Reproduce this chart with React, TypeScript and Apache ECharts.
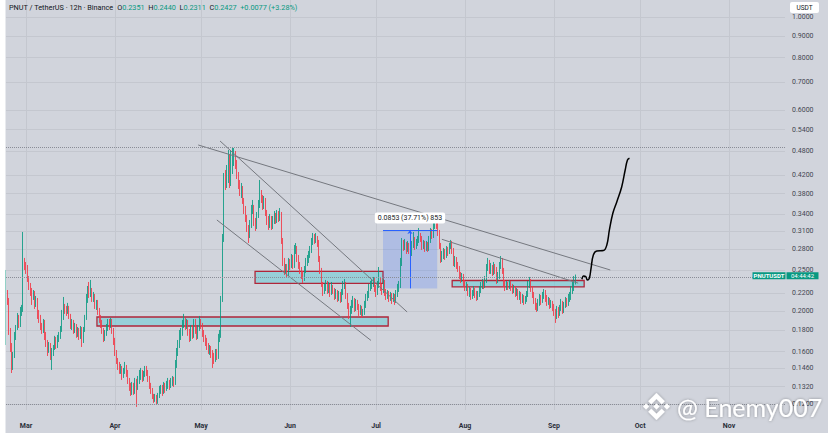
import React, { useEffect, useRef } from "react";
import * as echarts from "echarts";

// ---------- data (12h candles, PNUT / USDT, starting Feb 22; day 0 = Mar 1) ----------
const START_DAY = -7;
const FIRST_OPEN = 0.1753;

const closes = [
  0.2205,0.2123,0.1801,0.1659,0.1487,0.1571,0.1753,0.1821,0.1913,0.1851,0.1967,0.2010,0.2614,0.2571,0.2502,0.2395,0.2305,0.2218,0.2146,0.2205,
  0.2066,0.2123,0.1967,0.1913,0.1851,0.1801,0.1872,0.1753,0.1686,0.1614,0.1659,0.1571,0.1597,0.1632,0.1705,0.1659,0.1725,0.1744,0.1801,0.1913,
  0.2032,0.2010,0.1988,0.2032,0.1956,0.1851,0.1872,0.1801,0.1841,0.1763,0.1801,0.1744,0.1811,0.1705,0.1801,0.1913,0.2123,0.2218,0.2194,0.2242,
  0.2146,0.2182,0.2066,0.2089,0.2010,0.1913,0.1872,0.1801,0.1725,0.1772,0.1821,0.1872,0.1851,0.1903,0.1801,0.1705,0.1597,0.1528,0.1479,0.1447,
  0.1463,0.1400,0.1431,0.1463,0.1431,0.1370,0.1318,0.1283,0.1333,0.1297,0.1355,0.1326,0.1370,0.1408,0.1431,0.1385,0.1416,0.1447,0.1431,0.1385,
  0.1333,0.1297,0.1255,0.1228,0.1248,0.1215,0.1255,0.1297,0.1311,0.1283,0.1326,0.1304,0.1333,0.1348,0.1326,0.1355,0.1370,0.1348,0.1487,0.1597,
  0.1659,0.1753,0.1782,0.1851,0.1903,0.1841,0.1872,0.1782,0.1725,0.1821,0.1753,0.1872,0.1801,0.1744,0.1821,0.1903,0.1851,0.1772,0.1725,0.1686,
  0.1650,0.1614,0.1632,0.1580,0.1562,0.1528,0.1597,0.1554,0.1725,0.1753,0.2123,0.2949,0.4141,0.3985,0.4096,0.4209,0.4052,0.4326,0.4570,0.4620,
  0.4446,0.4209,0.3985,0.3835,0.3920,0.3671,0.3475,0.3326,0.3149,0.3064,0.3201,0.3475,0.3533,0.3254,0.3184,0.3381,0.3572,0.3773,0.3711,0.3552,
  0.3671,0.3437,0.3290,0.3201,0.3326,0.3184,0.3290,0.3363,0.3290,0.3400,0.3326,0.3400,0.2949,0.2614,0.2502,0.2530,0.2475,0.2614,0.2557,0.2672,
  0.2571,0.2792,0.2822,0.2672,0.2571,0.2502,0.2434,0.2395,0.2502,0.2614,0.2643,0.2716,0.2792,0.2917,0.2981,0.2949,0.2997,0.2901,0.2672,0.2502,
  0.2330,0.2218,0.2267,0.2318,0.2242,0.2292,0.2205,0.2280,0.2242,0.2170,0.2218,0.2146,0.2194,0.2135,0.2218,0.2305,0.2330,0.2182,0.2066,0.1967,
  0.2010,0.2077,0.2123,0.2032,0.2100,0.2055,0.1988,0.2032,0.1967,0.1988,0.2066,0.2146,0.2182,0.2267,0.2305,0.2330,0.2369,0.2267,0.2218,0.2305,
  0.2369,0.2280,0.2242,0.2330,0.2218,0.2170,0.2205,0.2146,0.2182,0.2123,0.2170,0.2123,0.2194,0.2267,0.2305,0.2614,0.2901,0.2838,0.2901,0.2792,
  0.2869,0.2792,0.2746,0.2869,0.2949,0.2853,0.2901,0.2949,0.3014,0.2981,0.2853,0.2901,0.2822,0.2885,0.2822,0.2949,0.3081,0.3031,0.3184,0.3254,
  0.3201,0.3081,0.2869,0.2672,0.2716,0.2762,0.2701,0.2792,0.2762,0.2853,0.2901,0.2792,0.2614,0.2643,0.2571,0.2530,0.2434,0.2395,0.2421,0.2343,
  0.2280,0.2305,0.2218,0.2242,0.2170,0.2205,0.2242,0.2194,0.2158,0.2194,0.2242,0.2292,0.2330,0.2305,0.2369,0.2530,0.2600,0.2502,0.2530,0.2475,
  0.2557,0.2502,0.2369,0.2421,0.2557,0.2643,0.2502,0.2330,0.2280,0.2318,0.2292,0.2330,0.2280,0.2242,0.2267,0.2205,0.2230,0.2170,0.2194,0.2123,
  0.2158,0.2112,0.2135,0.2182,0.2305,0.2369,0.2267,0.2194,0.2123,0.2055,0.2032,0.2089,0.2146,0.2112,0.2170,0.2205,0.2146,0.2100,0.2123,0.2066,
  0.2089,0.2043,0.1988,0.1956,0.2010,0.1967,0.2032,0.2089,0.2010,0.2066,0.2112,0.2089,0.2146,0.2158,0.2242,0.2292,0.2351,0.2427,
];

const highs = [
  0.2502,0.2242,0.2146,0.1821,0.1677,0.1597,0.1782,0.1851,0.1977,0.1956,0.2043,0.2066,0.3081,0.2672,0.2614,0.2571,0.2421,0.2330,0.2267,0.2242,
  0.2230,0.2170,0.2146,0.2010,0.1956,0.1872,0.1913,0.1903,0.1782,0.1705,0.1686,0.1677,0.1632,0.1659,0.1744,0.1734,0.1753,0.1782,0.1841,0.2010,
  0.2158,0.2077,0.2055,0.2089,0.2055,0.1967,0.1913,0.1903,0.1872,0.1861,0.1831,0.1821,0.1841,0.1831,0.1831,0.1956,0.2194,0.2292,0.2343,0.2369,
  0.2267,0.2218,0.2194,0.2123,0.2123,0.2032,0.1956,0.1903,0.1821,0.1801,0.1861,0.1913,0.1913,0.1924,0.1913,0.1821,0.1725,0.1614,0.1545,0.1512,
  0.1495,0.1479,0.1463,0.1512,0.1487,0.1447,0.1385,0.1348,0.1355,0.1348,0.1385,0.1378,0.1400,0.1447,0.1463,0.1447,0.1439,0.1479,0.1479,0.1447,
  0.1400,0.1348,0.1311,0.1269,0.1269,0.1262,0.1276,0.1326,0.1333,0.1333,0.1355,0.1348,0.1363,0.1385,0.1370,0.1385,0.1400,0.1393,0.1528,0.1632,
  0.1705,0.1801,0.1821,0.1903,0.1967,0.1924,0.1913,0.1903,0.1811,0.1851,0.1851,0.1913,0.1913,0.1831,0.1851,0.1945,0.1913,0.1872,0.1801,0.1753,
  0.1725,0.1677,0.1659,0.1650,0.1614,0.1589,0.1623,0.1623,0.1763,0.1801,0.2170,0.3047,0.4256,0.4326,0.4446,0.4827,0.4697,0.4827,0.4880,0.4880,
  0.4801,0.4570,0.4279,0.4096,0.4029,0.3963,0.3711,0.3552,0.3381,0.3201,0.3290,0.3572,0.3671,0.3572,0.3326,0.3437,0.3671,0.4096,0.3877,0.3773,
  0.3752,0.3711,0.3475,0.3363,0.3400,0.3363,0.3363,0.3456,0.3419,0.3475,0.3456,0.3513,0.3437,0.2981,0.2672,0.2585,0.2585,0.2672,0.2657,0.2731,
  0.2716,0.2869,0.2900,0.2853,0.2716,0.2614,0.2543,0.2488,0.2557,0.2672,0.2716,0.2777,0.2853,0.2981,0.3064,0.3047,0.3064,0.3014,0.2949,0.2701,
  0.2530,0.2343,0.2318,0.2369,0.2356,0.2343,0.2318,0.2343,0.2305,0.2267,0.2254,0.2242,0.2230,0.2218,0.2254,0.2356,0.2382,0.2343,0.2205,0.2089,
  0.2055,0.2123,0.2170,0.2146,0.2135,0.2123,0.2077,0.2066,0.2055,0.2021,0.2112,0.2194,0.2230,0.2318,0.2356,0.2382,0.2408,0.2395,0.2305,0.2356,
  0.2543,0.2408,0.2318,0.2382,0.2369,0.2254,0.2242,0.2230,0.2218,0.2205,0.2205,0.2194,0.2242,0.2318,0.2356,0.2672,0.2981,0.2949,0.2965,0.2917,
  0.2933,0.2901,0.2853,0.2933,0.3081,0.2997,0.2965,0.3014,0.3149,0.3064,0.3014,0.2949,0.2933,0.2933,0.2917,0.3014,0.3149,0.3132,0.3254,0.3363,
  0.3381,0.3290,0.3115,0.2901,0.2777,0.2822,0.2807,0.2853,0.2838,0.2901,0.2949,0.2933,0.2822,0.2701,0.2686,0.2614,0.2557,0.2475,0.2461,0.2448,
  0.2369,0.2343,0.2318,0.2280,0.2267,0.2242,0.2292,0.2267,0.2230,0.2230,0.2292,0.2343,0.2382,0.2369,0.2421,0.2585,0.2672,0.2643,0.2600,0.2571,
  0.2614,0.2585,0.2543,0.2475,0.2614,0.2701,0.2672,0.2530,0.2369,0.2356,0.2343,0.2369,0.2356,0.2318,0.2305,0.2292,0.2267,0.2254,0.2230,0.2218,
  0.2194,0.2182,0.2170,0.2230,0.2356,0.2408,0.2382,0.2292,0.2218,0.2146,0.2089,0.2135,0.2194,0.2182,0.2218,0.2254,0.2242,0.2182,0.2158,0.2146,
  0.2123,0.2112,0.2077,0.2021,0.2055,0.2043,0.2066,0.2135,0.2112,0.2100,0.2158,0.2146,0.2194,0.2218,0.2292,0.2343,0.2421,0.2440,
];

const lows = [
  0.1659,0.2066,0.1753,0.1597,0.1423,0.1447,0.1545,0.1705,0.1801,0.1821,0.1831,0.1945,0.1988,0.2502,0.2448,0.2343,0.2242,0.2170,0.2066,0.2123,
  0.2021,0.2043,0.1913,0.1872,0.1801,0.1763,0.1772,0.1705,0.1641,0.1562,0.1589,0.1528,0.1447,0.1562,0.1614,0.1623,0.1632,0.1686,0.1715,0.1782,
  0.1903,0.1967,0.1945,0.1967,0.1913,0.1811,0.1801,0.1763,0.1772,0.1725,0.1734,0.1705,0.1715,0.1641,0.1677,0.1782,0.1903,0.2089,0.2146,0.2158,
  0.2100,0.2100,0.2021,0.2010,0.1956,0.1872,0.1821,0.1763,0.1686,0.1696,0.1744,0.1792,0.1801,0.1821,0.1763,0.1659,0.1562,0.1495,0.1447,0.1416,
  0.1416,0.1370,0.1385,0.1416,0.1393,0.1340,0.1290,0.1255,0.1262,0.1262,0.1269,0.1182,0.1297,0.1340,0.1370,0.1355,0.1363,0.1393,0.1400,0.1355,
  0.1304,0.1269,0.1234,0.1208,0.1215,0.1195,0.1202,0.1241,0.1269,0.1255,0.1269,0.1276,0.1290,0.1304,0.1297,0.1311,0.1326,0.1318,0.1333,0.1463,
  0.1562,0.1632,0.1705,0.1744,0.1821,0.1801,0.1811,0.1744,0.1686,0.1696,0.1715,0.1725,0.1763,0.1705,0.1715,0.1792,0.1811,0.1734,0.1686,0.1650,
  0.1614,0.1580,0.1571,0.1545,0.1463,0.1495,0.1512,0.1528,0.1537,0.1686,0.1725,0.2100,0.2917,0.3877,0.3920,0.4029,0.3920,0.3963,0.4232,0.4422,
  0.4350,0.4118,0.3898,0.3752,0.3711,0.3592,0.3400,0.3254,0.3081,0.2901,0.2981,0.3149,0.3400,0.3184,0.3098,0.3132,0.3326,0.3513,0.3611,0.3475,
  0.3494,0.3363,0.3201,0.3115,0.3149,0.3115,0.3132,0.3219,0.3219,0.3237,0.3254,0.3272,0.2885,0.2557,0.2434,0.2448,0.2395,0.2421,0.2502,0.2530,
  0.2516,0.2530,0.2731,0.2614,0.2516,0.2448,0.2382,0.2330,0.2356,0.2461,0.2557,0.2600,0.2672,0.2746,0.2869,0.2885,0.2901,0.2838,0.2614,0.2448,
  0.2280,0.2170,0.2194,0.2230,0.2194,0.2205,0.2158,0.2182,0.2194,0.2123,0.2135,0.2100,0.2112,0.2089,0.2100,0.2182,0.2254,0.2135,0.2021,0.1913,
  0.1831,0.1967,0.2032,0.1988,0.1999,0.2010,0.1945,0.1956,0.1924,0.1945,0.1956,0.2032,0.2112,0.2146,0.2230,0.2254,0.2280,0.2218,0.2158,0.2182,
  0.2267,0.2230,0.2182,0.2205,0.2170,0.2123,0.2135,0.2100,0.2112,0.2077,0.2100,0.2066,0.2089,0.2158,0.2218,0.2267,0.2557,0.2777,0.2792,0.2731,
  0.2762,0.2731,0.2701,0.2701,0.2822,0.2792,0.2807,0.2853,0.2901,0.2917,0.2792,0.2807,0.2762,0.2777,0.2762,0.2777,0.2901,0.2965,0.2981,0.3132,
  0.3132,0.3014,0.2807,0.2600,0.2614,0.2657,0.2643,0.2672,0.2701,0.2731,0.2807,0.2731,0.2557,0.2543,0.2516,0.2475,0.2382,0.2330,0.2343,0.2292,
  0.2230,0.2230,0.2170,0.2158,0.2123,0.2135,0.2170,0.2146,0.2112,0.2123,0.2158,0.2205,0.2254,0.2254,0.2267,0.2330,0.2488,0.2448,0.2448,0.2421,
  0.2434,0.2448,0.2318,0.2330,0.2382,0.2516,0.2448,0.2280,0.2230,0.2242,0.2242,0.2254,0.2230,0.2194,0.2205,0.2158,0.2170,0.2123,0.2123,0.2077,
  0.2089,0.2066,0.2077,0.2100,0.2158,0.2267,0.2218,0.2146,0.2077,0.2010,0.1988,0.1999,0.2055,0.2066,0.2089,0.2135,0.2100,0.2055,0.2066,0.2021,
  0.2032,0.1999,0.1945,0.1872,0.1913,0.1924,0.1945,0.1999,0.1967,0.1977,0.2032,0.2043,0.2055,0.2100,0.2123,0.2194,0.2230,0.2311,
];

// axis ticks
const monthTicks = [0, 31, 61, 92, 122, 153, 184, 214, 245];
const monthLabels = ["Mar", "Apr", "May", "Jun", "Jul", "Aug", "Sep", "Oct", "Nov"];
const priceTicks = [1.0, 0.9, 0.8, 0.7, 0.6, 0.54, 0.48, 0.42, 0.38, 0.34, 0.31, 0.28, 0.25, 0.22, 0.2, 0.18, 0.16, 0.146, 0.132, 0.12];

// drawings (day, price)
const trendLines = [
  [[60.0, 0.4961], [203.6, 0.2502]],
  [[144.9, 0.2960], [192.4, 0.2328]],
  [[67.6, 0.5071], [132.8, 0.1988]],
  [[66.5, 0.3290], [120.2, 0.1701]],
];
const zoneFrom = [79.8, 24.7, 148.5];
const zoneTo = [124.4, 126.2, 194.5];
const zoneTop = [0.2482, 0.1934, 0.2362];
const zoneBottom = [0.2324, 0.1841, 0.2280];

const rangeDays = [124.4, 133.8, 143.3];
const rangePrices = [0.2262, 0.3115];
const rangeLabel = "0.0853 (37.71%) 853";

const levels = [0.4880, 0.2351, 0.1184];

const projDays = [193.7, 194.3, 195.1, 195.6, 196.3, 196.9, 197.7, 198.9, 201.2, 202.4, 203.3, 204.5, 205.9, 207.6, 208.8, 209.6, 210.3];
const projPrices = [0.2378, 0.2421, 0.2412, 0.2369, 0.2391, 0.2525, 0.2716, 0.2777, 0.2782, 0.2869, 0.3115, 0.3413, 0.3637, 0.3948, 0.4326, 0.4570, 0.4612];

const LAST_CLOSE = closes[closes.length - 1];

const BNB_PATH =
  "M38.73 53.2L63.31 28.62L87.9 53.21L102.2 38.91L63.31 0L24.43 38.9Z " +
  "M0 63.3L14.3 49L28.6 63.3L14.3 77.6Z " +
  "M98 63.3L112.3 49L126.6 63.3L112.3 77.6Z " +
  "M38.73 73.41L63.31 98L87.9 73.41L102.2 87.7L63.31 126.61L24.43 87.73Z " +
  "M48.8 63.3L63.3 48.8L77.8 63.3L63.3 77.8Z";
echarts.graphic.registerShape("bnbLogo", echarts.graphic.extendPath(BNB_PATH, {}));

const FONT = 'Roboto, "Noto Sans", Arial, sans-serif';
const UP = "#089981";
const DOWN = "#f23645";

export default function App() {
  const ref = useRef<HTMLDivElement>(null);

  useEffect(() => {
    if (!ref.current) return;
    const chart = echarts.init(ref.current, null, { renderer: "svg" });

    const candleData = closes.map((c, i) => [
      START_DAY + i / 2,
      i === 0 ? FIRST_OPEN : closes[i - 1],
      c,
      lows[i],
      highs[i],
    ]);

    const option: any = {
      animation: false,
      backgroundColor: "#d1d4dc",
      grid: { left: 6, right: 43, top: 0, bottom: 23, containLabel: false, outerBoundsMode: "none" },
      xAxis: {
        type: "value",
        min: -7,
        max: 264.5,
        axisLine: { show: false },
        axisTick: { show: false, customValues: monthTicks },
        axisLabel: {
          customValues: monthTicks,
          formatter: (v: number) => monthLabels[monthTicks.indexOf(v)] ?? "",
          fontSize: 7,
          fontWeight: "bold",
          color: "#2a2e39",
          fontFamily: FONT,
          margin: 12,
        },
        splitLine: { show: true, lineStyle: { color: "#c4c7cf", width: 1 } },
      },
      yAxis: {
        type: "log",
        logBase: 10,
        position: "right",
        min: 0.1162,
        max: 1.0976,
        axisLine: { show: false },
        axisTick: { show: false, customValues: priceTicks },
        axisLabel: {
          customValues: priceTicks,
          formatter: (v: number) => v.toFixed(4),
          fontSize: 7,
          color: "#434651",
          fontFamily: FONT,
          margin: 7,
        },
        splitLine: { show: true, lineStyle: { color: "#c4c7cf", width: 1 } },
      },
      series: [
        {
          type: "line",
          name: "zones",
          data: [],
          z: 1,
          silent: true,
          markArea: {
            silent: true,
            itemStyle: { color: "rgba(112,204,214,0.6)", borderColor: "#b0263a", borderWidth: 1.3 },
            data: zoneFrom.map((f, k) => [
              { coord: [f, zoneTop[k]] },
              { coord: [zoneTo[k], zoneBottom[k]] },
            ]),
          },
        },
        {
          type: "line",
          name: "range",
          data: [],
          z: 1,
          silent: true,
          markArea: {
            silent: true,
            itemStyle: { color: "rgba(41,98,255,0.2)" },
            data: [[{ coord: [rangeDays[0], rangePrices[1]] }, { coord: [rangeDays[2], rangePrices[0]] }]],
          },
          markLine: {
            silent: true,
            symbol: ["none", "none"],
            label: { show: false },
            lineStyle: { color: "#2962ff", width: 1, type: "solid" },
            data: [
              [{ coord: [rangeDays[0], rangePrices[1]] }, { coord: [rangeDays[2], rangePrices[1]] }],
              [
                { coord: [rangeDays[1], rangePrices[0]] },
                { coord: [rangeDays[1], rangePrices[1]], symbol: "arrow", symbolSize: 4 },
              ],
            ],
          },
          markPoint: {
            silent: true,
            symbol: "rect",
            symbolSize: 1,
            itemStyle: { color: "transparent" },
            label: {
              show: true,
              position: "top",
              distance: 6,
              formatter: rangeLabel,
              backgroundColor: "#ffffff",
              borderRadius: 2,
              padding: [2, 3],
              color: "#131722",
              fontSize: 7,
              fontFamily: FONT,
            },
            data: [{ coord: [rangeDays[1], rangePrices[1]] }],
          },
        },
        {
          type: "line",
          name: "levels",
          data: [],
          z: 1,
          silent: true,
          markLine: {
            silent: true,
            symbol: ["none", "none"],
            label: { show: false },
            lineStyle: { color: "#8a8d97", type: "dotted", width: 1 },
            data: levels.map((v) => ({ yAxis: v })),
          },
        },
        {
          type: "candlestick",
          name: "PNUTUSDT",
          data: candleData,
          z: 3,
          barWidth: 0.9,
          itemStyle: {
            color: UP,
            color0: DOWN,
            borderColor: UP,
            borderColor0: DOWN,
            borderWidth: 0.85,
          },
        },
        ...trendLines.map((tl) => ({
          type: "line",
          data: tl,
          symbol: "none",
          silent: true,
          z: 4,
          lineStyle: { color: "#75787f", width: 1 },
        })),
        {
          type: "line",
          name: "projection",
          data: projDays.map((d, k) => [d, projPrices[k]]),
          smooth: 0.4,
          symbol: "none",
          silent: true,
          z: 5,
          lineStyle: { color: "#000000", width: 1.5 },
        },
      ],
    };

    chart.setOption(option);

    const py = chart.convertToPixel({ yAxisIndex: 0 }, LAST_CLOSE) as number;

    const graphics: any[] = [
      { type: "rect", z: 100, silent: true, shape: { x: 0, y: 0, width: 5.5, height: 433 }, style: { fill: "#ffffff" } },
      {
        type: "text",
        z: 100,
        x: 9,
        y: 7.5,
        style: {
          text:
            "{n|PNUT / TetherUS · 12h · Binance}  {n|O}{v|0.2351}  {n|H}{v|0.2440}  {n|L}{v|0.2311}  {n|C}{v|0.2427}  {v|+0.0077 (+3.28%)}",
          fontSize: 7.3,
          fontFamily: FONT,
          fill: "#131722",
          verticalAlign: "middle",
          rich: {
            n: { fill: "#131722", fontSize: 7.3, fontFamily: FONT },
            v: { fill: UP, fontSize: 7.3, fontFamily: FONT },
          },
        },
      },
      { type: "rect", z: 100, shape: { x: 790, y: 2, width: 29, height: 11, r: 2 }, style: { fill: "#ffffff" } },
      {
        type: "text",
        z: 101,
        x: 804.5,
        y: 7.5,
        style: { text: "USDT", fontSize: 6.5, fontFamily: FONT, fill: "#131722", align: "center", verticalAlign: "middle" },
      },
      { type: "rect", z: 100, shape: { x: 752.5, y: py - 3.4, width: 33, height: 7.2 }, style: { fill: UP } },
      { type: "rect", z: 100, shape: { x: 786.5, y: py - 3.4, width: 32, height: 7.2 }, style: { fill: UP } },
      {
        type: "text",
        z: 101,
        x: 769,
        y: py + 0.2,
        style: { text: "PNUTUSDT", fontSize: 6, fontWeight: "bold", fontFamily: FONT, fill: "#ffffff", align: "center", verticalAlign: "middle" },
      },
      {
        type: "text",
        z: 101,
        x: 802.5,
        y: py + 0.2,
        style: { text: "04:44:42", fontSize: 6, fontFamily: FONT, fill: "#ffffff", align: "center", verticalAlign: "middle" },
      },
      {
        type: "bnbLogo",
        z: 100,
        silent: true,
        x: 643,
        y: 393,
        scaleX: 0.2133,
        scaleY: 0.2133,
        style: { fill: "#ffffff", shadowBlur: 3, shadowColor: "rgba(0,0,0,0.35)" },
      },
      {
        type: "text",
        z: 100,
        silent: true,
        x: 677,
        y: 407,
        style: {
          text: "@ Enemy007",
          fontSize: 25,
          fontFamily: "Lato, 'Open Sans', sans-serif",
          fill: "#ffffff",
          verticalAlign: "middle",
          textShadowBlur: 3,
          textShadowColor: "rgba(0,0,0,0.35)",
        },
      },
    ];

    chart.setOption({ graphic: graphics });

    return () => chart.dispose();
  }, []);

  return <div ref={ref} style={{ position: "fixed", left: 0, top: 0, width: 828, height: 433 }} />;
}
